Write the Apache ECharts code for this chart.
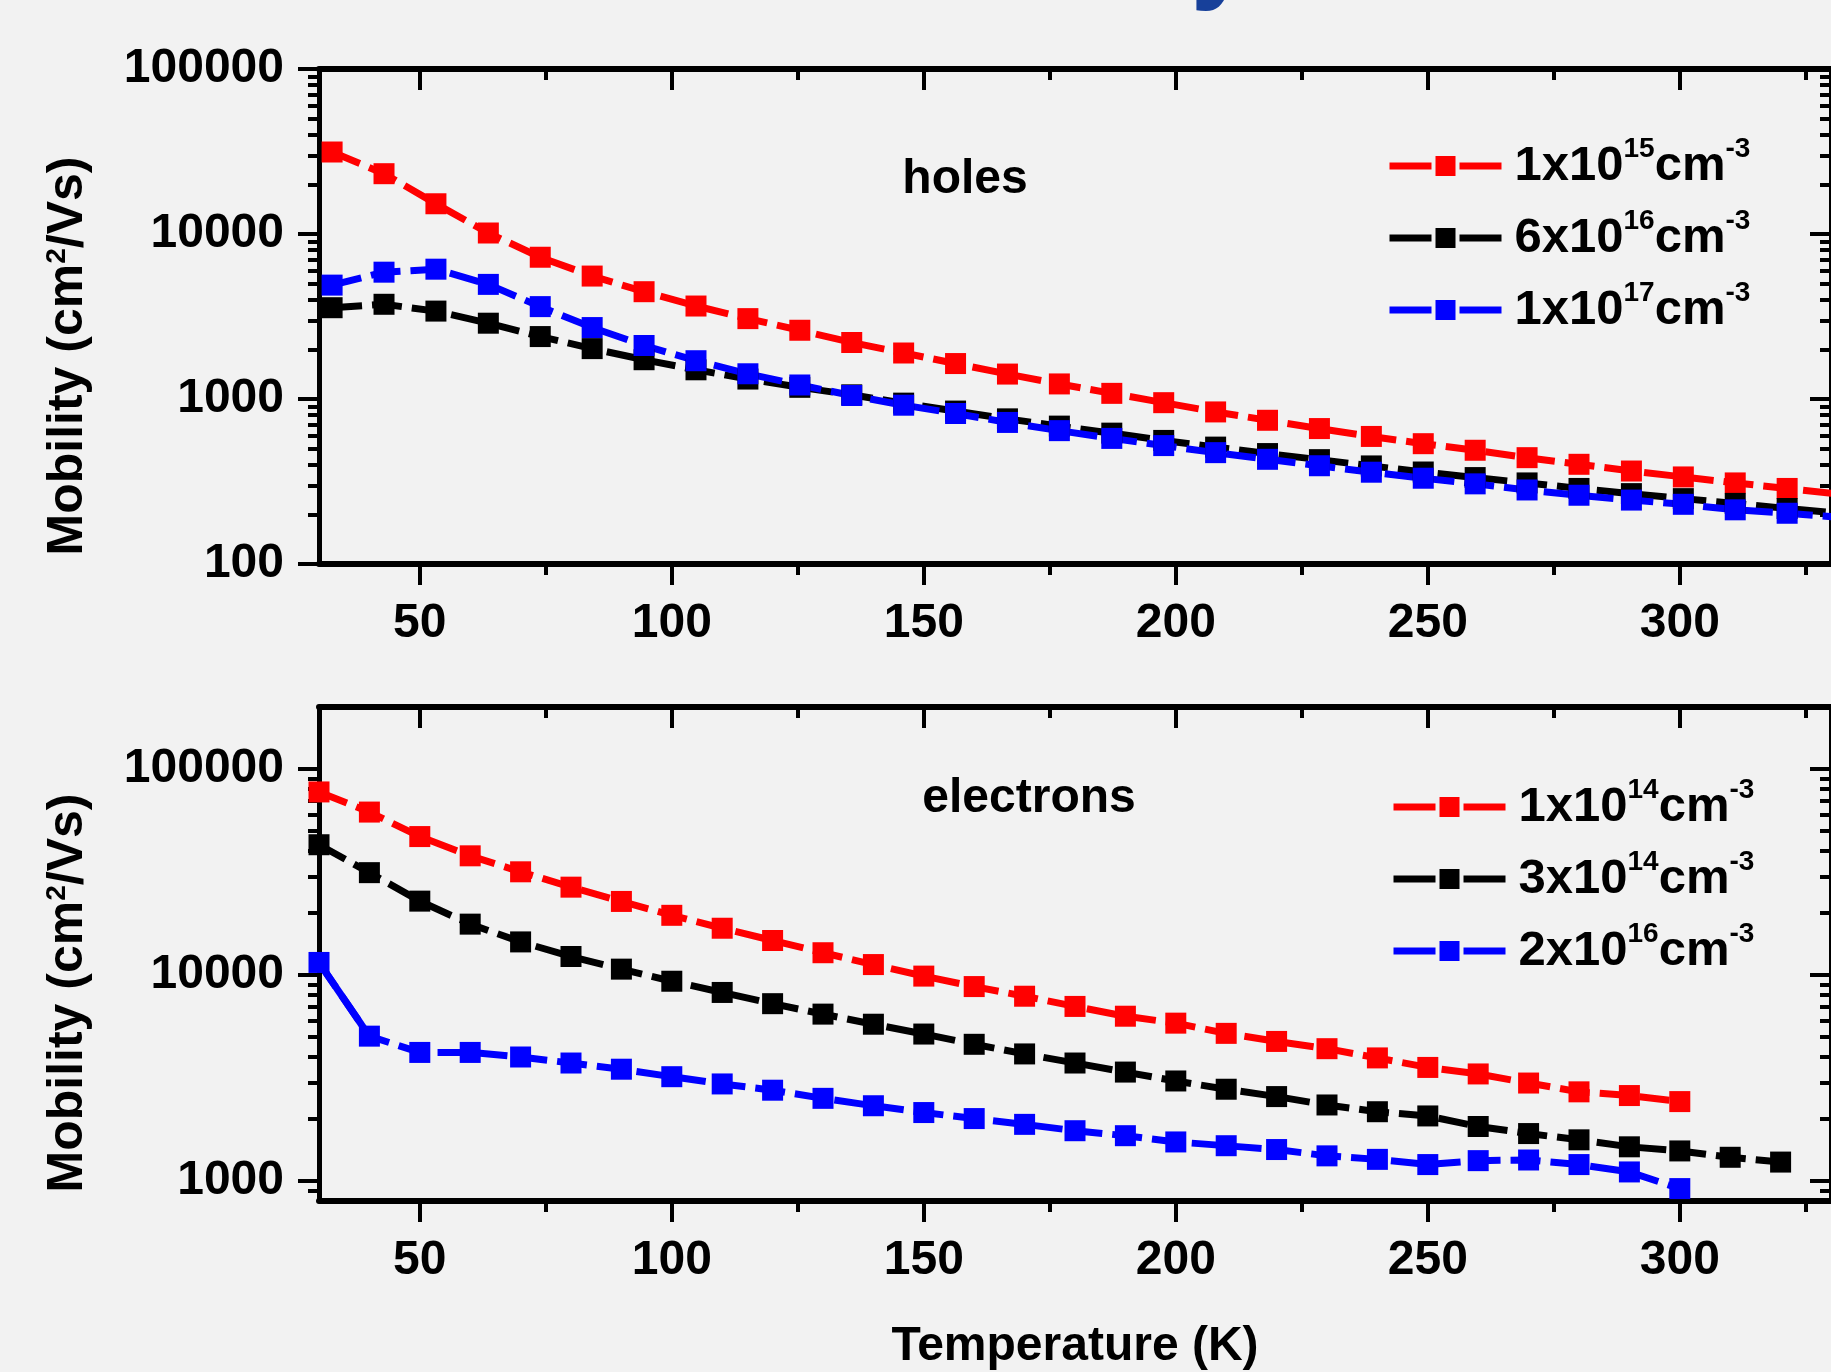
<!DOCTYPE html>
<html>
<head>
<meta charset="utf-8">
<title>Mobility vs temperature</title>
<script src="https://cdn.jsdelivr.net/npm/echarts@6.0.0/dist/echarts.min.js"></script>
<style>
  html, body { margin: 0; padding: 0; background: #f2f2f2; }
  #chart { width: 1831px; height: 1372px; }
</style>
</head>
<body>
<div id="chart"></div>
<script>
// temperatures (K) of the holes panel
const tempHoles = [32.6, 42.9, 53.2, 63.6, 73.9, 84.2, 94.5, 104.8, 115.1, 125.4,
  135.7, 146.0, 156.3, 166.6, 176.9, 187.3, 197.6, 207.9, 218.2, 228.5,
  238.8, 249.1, 259.4, 269.7, 280.0, 290.4, 300.7, 311.0, 321.3, 331.6];
// hole mobility (cm2/Vs)
const holes1e15 = [31400, 23200, 15250, 10140, 7230, 5560, 4470, 3660, 3070, 2610,
  2200, 1900, 1640, 1416, 1234, 1082, 950, 835, 743, 662,
  593, 536, 489, 441, 402, 366, 337, 310, 287, 265];
const holes6e16 = [3575, 3750, 3410, 2880, 2390, 2020, 1730, 1503, 1321, 1177,
  1060, 944, 845, 758, 685, 621, 561, 511, 467, 429,
  393, 361, 334, 310, 287, 267, 249, 233, 217, 203];
const holes1e17 = [4900, 5870, 6120, 4950, 3630, 2710, 2110, 1706, 1422, 1216,
  1050, 917, 817, 721, 643, 577, 522, 473, 431, 394,
  360, 331, 306, 281, 261, 244, 230, 213, 203, 192];

// temperatures (K) of the electrons panel
const tempElectrons = [30, 40, 50, 60, 70, 80, 90, 100, 110, 120,
  130, 140, 150, 160, 170, 180, 190, 200, 210, 220,
  230, 240, 250, 260, 270, 280, 290, 300, 310, 320];
// electron mobility (cm2/Vs)
const elec1e14 = [77400, 61800, 47000, 37900, 31700, 26700, 22760, 19490, 16870, 14710,
  12830, 11240, 9880, 8790, 7890, 7040, 6310, 5840, 5210, 4760,
  4390, 3960, 3560, 3310, 2990, 2710, 2600, 2430];
const elec3e14 = [42900, 31400, 22840, 17660, 14480, 12300, 10680, 9330, 8230, 7260,
  6460, 5770, 5170, 4610, 4140, 3740, 3380, 3060, 2790, 2570,
  2340, 2170, 2070, 1840, 1700, 1585, 1466, 1400, 1304, 1236];
const elec2e16 = [11510, 5050, 4210, 4210, 4000, 3740, 3490, 3210, 2960, 2760,
  2520, 2320, 2150, 2010, 1884, 1755, 1660, 1548, 1484, 1422,
  1325, 1274, 1202, 1256, 1265, 1202, 1107, 919];

// series names (superscripts written with ^)
const holesNames = ['1x10^15 cm^-3', '6x10^16 cm^-3', '1x10^17 cm^-3'];
const elecNames = ['1x10^14 cm^-3', '3x10^14 cm^-3', '2x10^16 cm^-3'];

// tick values
const xMajor = [50, 100, 150, 200, 250, 300];
const xMinor = [75, 125, 175, 225, 275, 325];
const yMajorHoles = [100, 1000, 10000, 100000];
const yMinorHoles = [200, 300, 400, 500, 600, 700, 800, 900,
  2000, 3000, 4000, 5000, 6000, 7000, 8000, 9000,
  20000, 30000, 40000, 50000, 60000, 70000, 80000, 90000];
const yMajorElec = [1000, 10000, 100000];
const yMinorElec = [900, 2000, 3000, 4000, 5000, 6000, 7000, 8000, 9000,
  20000, 30000, 40000, 50000, 60000, 70000, 80000, 90000];

const font = "'Liberation Sans', Arial, sans-serif";
const colors = ['#ff0000', '#000000', '#0000ff'];

const labelStyle = { fontFamily: font, fontSize: 48, fontWeight: 'bold', color: '#000' };
// superscript: small line height + top alignment lifts it above the cap line
const supStyle = { fontFamily: font, fontSize: 28, fontWeight: 'bold', color: '#000', verticalAlign: 'top', lineHeight: 8 };

function supText(name) {
  return name.replace(/\^(-?\d+)/g, '{sup|$1}').replace(' ', '');
}

function pairs(xs, ys) {
  return ys.map((v, i) => [xs[i], v]);
}

function xAxes(grid, withName) {
  const base = { gridIndex: grid, type: 'value', min: 30, max: 330, splitLine: { show: false } };
  const main = Object.assign({}, base, {
    position: 'bottom',
    axisLine: { lineStyle: { color: '#000', width: 6 } },
    axisTick: { customValues: xMajor, length: 21, lineStyle: { color: '#000', width: 4 } },
    axisLabel: Object.assign({ customValues: xMajor, margin: 36 }, labelStyle)
  });
  if (withName) {
    main.name = 'Temperature (K)';
    main.nameLocation = 'middle';
    main.nameGap = 122;
    main.nameTextStyle = labelStyle;
  }
  return [
    main,
    Object.assign({}, base, {
      position: 'bottom', axisLine: { show: false }, axisLabel: { show: false },
      axisTick: { customValues: xMinor, length: 11, lineStyle: { color: '#000', width: 4 } }
    }),
    Object.assign({}, base, {
      position: 'top', axisLine: { lineStyle: { color: '#000', width: 6 } }, axisLabel: { show: false },
      axisTick: { inside: true, customValues: xMajor, length: 21, lineStyle: { color: '#000', width: 4 } }
    }),
    Object.assign({}, base, {
      position: 'top', axisLine: { show: false }, axisLabel: { show: false },
      axisTick: { inside: true, customValues: xMinor, length: 11, lineStyle: { color: '#000', width: 4 } }
    })
  ];
}

function yAxes(grid, min, max, major, minor) {
  const base = { gridIndex: grid, type: 'log', logBase: 10, min: min, max: max, splitLine: { show: false } };
  return [
    Object.assign({}, base, {
      position: 'left',
      axisLine: { lineStyle: { color: '#000', width: 5 } },
      axisTick: { customValues: major, length: 21, lineStyle: { color: '#000', width: 4 } },
      axisLabel: Object.assign({ customValues: major, margin: 35, formatter: v => String(Math.round(v)) }, labelStyle)
    }),
    Object.assign({}, base, {
      position: 'left', axisLine: { show: false }, axisLabel: { show: false },
      axisTick: { customValues: minor, length: 11, lineStyle: { color: '#000', width: 4 } }
    }),
    Object.assign({}, base, {
      position: 'right', axisLine: { lineStyle: { color: '#000', width: 5 } }, axisLabel: { show: false },
      axisTick: { inside: true, customValues: major, length: 21, lineStyle: { color: '#000', width: 4 } }
    }),
    Object.assign({}, base, {
      position: 'right', axisLine: { show: false }, axisLabel: { show: false },
      axisTick: { inside: true, customValues: minor, length: 11, lineStyle: { color: '#000', width: 4 } }
    })
  ];
}

function lineSeries(name, axisIdx, xs, ys, color) {
  return {
    name: name,
    type: 'line',
    xAxisIndex: axisIdx,
    yAxisIndex: axisIdx,
    data: pairs(xs, ys),
    symbol: 'rect',
    symbolSize: 21,
    color: color,
    itemStyle: { color: color },
    lineStyle: { color: color, width: 7, type: [30, 10], cap: 'butt' },
    clip: true
  };
}

function legendFor(names, left, top) {
  return {
    data: names,
    orient: 'vertical',
    left: left,
    top: top,
    padding: 0,
    itemWidth: 112,
    itemHeight: 30,
    itemGap: 10,
    selectedMode: false,
    lineStyle: { type: 'solid', width: 7 },
    itemStyle: { borderColor: '#f2f2f2', borderWidth: 4 },
    formatter: supText,
    textStyle: Object.assign({}, labelStyle, { fontSize: 49, lineHeight: 62, padding: [0, 0, 0, 8], rich: { sup: supStyle } })
  };
}

function yName(x, y) {
  return {
    type: 'text', x: x, y: y, rotation: Math.PI / 2,
    style: {
      text: 'Mobility (cm{sup|2}/Vs)',
      fontFamily: font, fontSize: 50, fontWeight: 'bold', fill: '#000',
      align: 'center', verticalAlign: 'middle',
      rich: { sup: { fontFamily: font, fontSize: 28, fontWeight: 'bold', fill: '#000', verticalAlign: 'top', lineHeight: 8 } }
    }
  };
}

const chart = echarts.init(document.getElementById('chart'), null, { renderer: 'canvas' });

// the first blue electron segment is drawn solid in the original
const solidStart = {
  type: 'line',
  xAxisIndex: 4,
  yAxisIndex: 4,
  data: pairs(tempElectrons.slice(0, 2), elec2e16.slice(0, 2)),
  symbol: 'none',
  lineStyle: { color: colors[2], width: 7, type: 'solid' },
  z: 1
};

chart.setOption({
  backgroundColor: '#f2f2f2',
  animation: false,
  grid: [
    { left: 319, top: 69, width: 1516, height: 495 },
    { left: 319, top: 707, width: 1516, height: 496 }
  ],
  xAxis: xAxes(0, false).concat(xAxes(1, true)),
  yAxis: yAxes(0, 100, 100000, yMajorHoles, yMinorHoles)
    .concat(yAxes(1, 800, 200000, yMajorElec, yMinorElec)),
  legend: [
    legendFor(holesNames, 1386, 135),
    legendFor(elecNames, 1390, 776)
  ],
  graphic: [
    // cut-off title at the very top, only its descender reaches the page
    { type: 'text', x: 1252, y: 13, style: { text: 'Mobility', fontFamily: font, fontSize: 110, fontWeight: 'bold', fill: '#17409a', align: 'right', verticalAlign: 'bottom' } },
    { type: 'text', x: 965, y: 180, style: { text: 'holes', fontFamily: font, fontSize: 48, fontWeight: 'bold', fill: '#000', align: 'center', verticalAlign: 'middle' } },
    { type: 'text', x: 1029, y: 799, style: { text: 'electrons', fontFamily: font, fontSize: 48, fontWeight: 'bold', fill: '#000', align: 'center', verticalAlign: 'middle' } },
    yName(68, 356),
    yName(68, 993)
  ],
  series: [
    lineSeries(holesNames[0], 0, tempHoles, holes1e15, colors[0]),
    lineSeries(holesNames[1], 0, tempHoles, holes6e16, colors[1]),
    lineSeries(holesNames[2], 0, tempHoles, holes1e17, colors[2]),
    lineSeries(elecNames[0], 4, tempElectrons, elec1e14, colors[0]),
    lineSeries(elecNames[1], 4, tempElectrons, elec3e14, colors[1]),
    solidStart,
    lineSeries(elecNames[2], 4, tempElectrons, elec2e16, colors[2])
  ]
});
</script>
</body>
</html>
